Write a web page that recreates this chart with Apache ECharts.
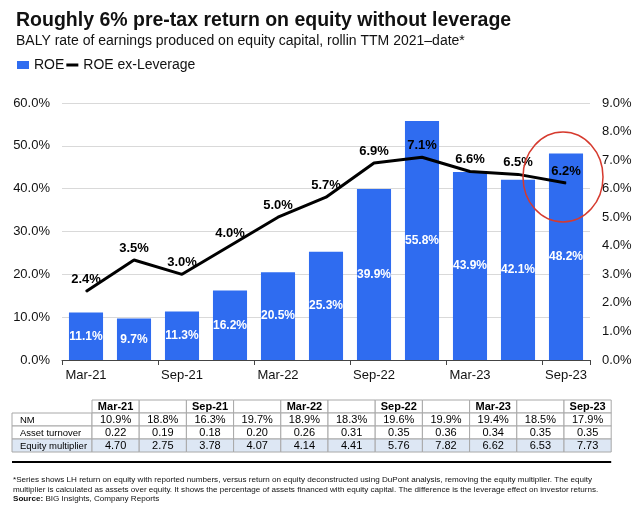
<!DOCTYPE html>
<html>
<head>
<meta charset="utf-8">
<title>ROE vs ROE ex-Leverage</title>
<script src="https://cdn.jsdelivr.net/npm/echarts@6/dist/echarts.min.js"></script>
<style>
  html, body { margin: 0; padding: 0; background: #fff; }
  #chart { width: 640px; height: 525px; }
</style>
</head>
<body>
<div id="chart"></div>
<script>
// quarterly periods, TTM
const categories = ['Mar-21', 'Jun-21', 'Sep-21', 'Dec-21', 'Mar-22', 'Jun-22',
  'Sep-22', 'Dec-22', 'Mar-23', 'Jun-23', 'Sep-23'];
const roe = [11.1, 9.7, 11.3, 16.2, 20.5, 25.3, 39.9, 55.8, 43.9, 42.1, 48.2];
const roeExLeverage = [2.4, 3.5, 3.0, 4.0, 5.0, 5.7, 6.9, 7.1, 6.6, 6.5, 6.2];

// DuPont table under the chart
const tableRowNames = ['NM', 'Asset turnover', 'Equity multiplier'];
const netMargin = ['10.9%', '18.8%', '16.3%', '19.7%', '18.9%', '18.3%', '19.6%', '19.9%', '19.4%', '18.5%', '17.9%'];
const assetTurnover = ['0.22', '0.19', '0.18', '0.20', '0.26', '0.31', '0.35', '0.36', '0.34', '0.35', '0.35'];
const equityMultiplier = ['4.70', '2.75', '3.78', '4.07', '4.14', '4.41', '5.76', '7.82', '6.62', '6.53', '7.73'];

const footnoteLines = [
  '*Series shows LH return on equity with reported numbers, versus return on equity deconstructed using DuPont analysis, removing the equity multiplier. The equity',
  'multiplier is calculated as assets over equity. It shows the percentage of assets financed with equity capital. The difference is the leverage effect on investor returns.'
];

const BLUE = '#2f6cf0';
const FONT = '"Liberation Sans", Arial, sans-serif';

const chart = echarts.init(document.getElementById('chart'));

const option = {
  backgroundColor: '#fff',
  textStyle: { fontFamily: FONT },
  animation: false,
  title: {
    text: 'Roughly 6% pre-tax return on equity without leverage',
    subtext: 'BALY rate of earnings produced on equity capital, rollin TTM 2021\u2013date*',
    left: 11,
    top: 6,
    itemGap: 3,
    textStyle: { fontSize: 19.5, fontWeight: 'bold', color: '#111', fontFamily: FONT },
    subtextStyle: { fontSize: 14, color: '#111', fontFamily: FONT }
  },
  legend: {
    left: 12,
    top: 53,
    itemWidth: 12,
    itemHeight: 8,
    itemGap: 2,
    textStyle: { fontSize: 14, color: '#111', fontFamily: FONT },
    data: [
      { name: 'ROE', icon: 'rect' },
      { name: 'ROE ex-Leverage', icon: 'path://M0,0H12V3H0Z', itemStyle: { color: '#000' } }
    ]
  },
  grid: { left: 62, right: 50, top: 103, bottom: 165 },
  xAxis: {
    type: 'category',
    data: categories,
    axisLine: { lineStyle: { color: '#444', width: 1 } },
    axisTick: { show: true, length: 5, lineStyle: { color: '#444' } },
    axisLabel: { interval: 1, fontSize: 13, color: '#111', margin: 9 }
  },
  yAxis: [
    {
      type: 'value', min: 0, max: 60, interval: 10,
      axisLine: { show: false }, axisTick: { show: false },
      axisLabel: { formatter: v => v.toFixed(1) + '%', fontSize: 13, color: '#111', margin: 12 },
      splitLine: { lineStyle: { color: '#d9d9d9', width: 1 } }
    },
    {
      type: 'value', min: 0, max: 9, interval: 1, position: 'right',
      axisLine: { show: false }, axisTick: { show: false },
      axisLabel: { formatter: v => v.toFixed(1) + '%', fontSize: 13, color: '#111', margin: 12 },
      splitLine: { show: false }
    }
  ],
  series: [
    {
      name: 'ROE',
      type: 'bar',
      data: roe,
      barWidth: '71%',
      itemStyle: { color: BLUE },
      label: {
        show: true, position: 'inside', formatter: p => p.value.toFixed(1) + '%',
        color: '#fff', fontWeight: 'bold', fontSize: 12
      }
    },
    {
      name: 'ROE ex-Leverage',
      type: 'line',
      yAxisIndex: 1,
      data: roeExLeverage,
      symbol: 'circle',
      symbolSize: 1,
      showSymbol: true,
      lineStyle: { color: '#000', width: 3 },
      itemStyle: { color: '#000' },
      label: {
        show: true, position: 'top', distance: 5, formatter: p => p.value.toFixed(1) + '%',
        color: '#000', fontWeight: 'bold', fontSize: 13
      },
      z: 5
    }
  ]
};

chart.setOption(option);

// table, footnote and the highlight ellipse drawn as graphics
function buildGraphics() {
  const els = [];
  const x0 = 12, labelW = 80, colW = 47.2, top = 400, rowH = 13;
  const border = '#a8a8a8';
  const headers = categories.map((c, i) => (i % 2 === 0 ? c : ''));

  headers.forEach((h, i) => {
    const x = x0 + labelW + i * colW;
    els.push({ type: 'rect', shape: { x, y: top, width: colW, height: rowH },
      style: { fill: '#fff', stroke: border, lineWidth: 1 } });
    if (h) {
      els.push({ type: 'text', x: x + colW / 2, y: top + rowH / 2 + 0.5,
        style: { text: h, fill: '#000', font: 'bold 11px ' + FONT, textAlign: 'center', textVerticalAlign: 'middle' } });
    }
  });

  const rows = [netMargin, assetTurnover, equityMultiplier];
  rows.forEach((vals, r) => {
    const y = top + rowH * (r + 1);
    const fill = r === 2 ? '#dde7f4' : '#fff';
    els.push({ type: 'rect', shape: { x: x0, y, width: labelW, height: rowH },
      style: { fill, stroke: border, lineWidth: 1 } });
    els.push({ type: 'text', x: x0 + 8, y: y + rowH / 2 + 0.5,
      style: { text: tableRowNames[r], fill: '#000', font: '9.5px ' + FONT, textAlign: 'left', textVerticalAlign: 'middle' } });
    vals.forEach((v, i) => {
      const x = x0 + labelW + i * colW;
      els.push({ type: 'rect', shape: { x, y, width: colW, height: rowH },
        style: { fill, stroke: border, lineWidth: 1 } });
      els.push({ type: 'text', x: x + colW / 2, y: y + rowH / 2 + 0.5,
        style: { text: v, fill: '#000', font: '11px ' + FONT, textAlign: 'center', textVerticalAlign: 'middle' } });
    });
  });

  const tableRight = x0 + labelW + categories.length * colW;
  els.push({ type: 'line', shape: { x1: x0, y1: 462, x2: tableRight, y2: 462 },
    style: { stroke: '#000', lineWidth: 2 } });

  footnoteLines.forEach((t, i) => {
    els.push({ type: 'text', x: 13, y: 480 + i * 9.5,
      style: { text: t, fill: '#111', font: '8.1px ' + FONT, textVerticalAlign: 'middle' } });
  });
  els.push({ type: 'text', x: 13, y: 499,
    style: {
      text: '{b|Source:} BIG Insights, Company Reports',
      font: '8.1px ' + FONT, fill: '#111', textVerticalAlign: 'middle',
      rich: { b: { fontWeight: 'bold', fontSize: 8.1, fontFamily: FONT, fill: '#111' } }
    } });

  // red ring around the latest ROE ex-Leverage point
  const last = categories.length - 1;
  const pt = chart.convertToPixel({ seriesIndex: 1 }, [last, roeExLeverage[last]]);
  els.push({ type: 'ellipse', shape: { cx: pt[0] - 3, cy: pt[1] - 6, rx: 40, ry: 45 },
    style: { fill: 'none', stroke: '#d63a2e', lineWidth: 1.5 }, z: 10 });

  return els;
}

chart.setOption({ graphic: { elements: buildGraphics() } });
</script>
</body>
</html>
